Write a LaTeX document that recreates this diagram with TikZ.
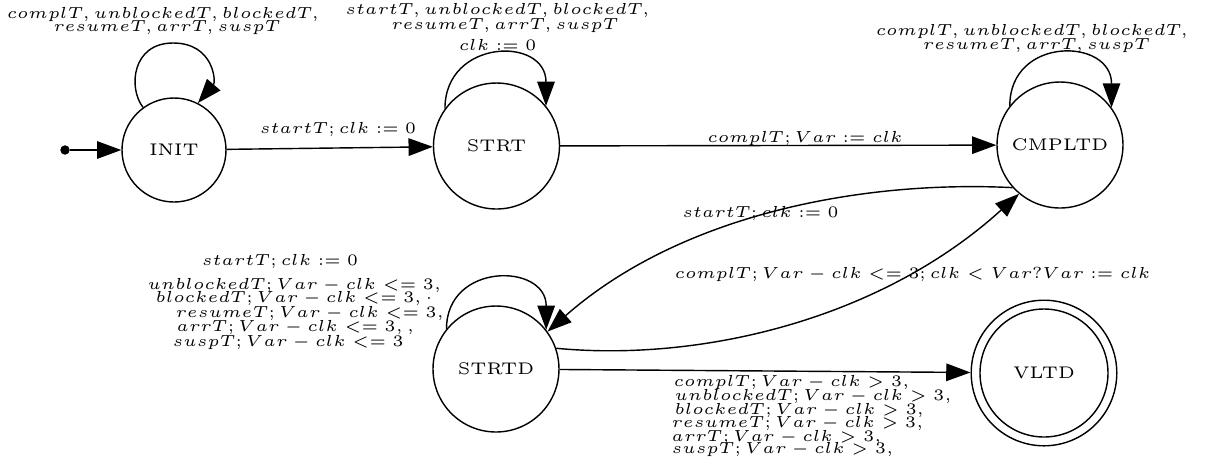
\documentclass[tikz,border=0pt]{standalone}
\usetikzlibrary{arrows.meta}
\newcommand{\labtxt}[1]{\scalebox{0.95}{$#1$}}
\begin{document}
\begin{tikzpicture}[x=0.2967pt, y=-0.2967pt,
  every node/.style={font=\tiny},
  state/.style={circle, draw, line width=0.42pt, inner sep=0pt, minimum size=37.38pt},
  edge/.style={line width=0.42pt, -{Triangle[length=7.2pt, width=5.2pt]}},
  lbl/.style={inner sep=0pt, anchor=base},
  lline/.style={inner sep=0pt, anchor=base west}]
\useasboundingbox (0,0) rectangle (1207,471);
% states
\node[state, minimum size=30.86pt] (INIT) at (174,150) {INIT};
\node[state] (STRT) at (496.5,146) {STRT};
\node[state] (CMPLTD) at (1060,145) {CMPLTD};
\node[state] (STRTD) at (496,369) {STRTD};
\node[state, minimum size=43.2pt] (VLTD) at (1044,373) {VLTD};
\draw[line width=0.42pt] (VLTD.center) circle[radius=64];
\node[circle, fill, inner sep=0pt, minimum size=2.8pt] (start) at (65,150) {};
% straight edges
\draw[edge] (start) -- (INIT);
\draw[edge] (INIT) -- (STRT);
\draw[edge] (STRT) -- (CMPLTD);
\draw[edge] (STRTD) -- (VLTD);
% curved edges
\draw[edge] (CMPLTD.222) .. controls (860,180) and (680,215) .. (STRTD.36);
\draw[edge] (STRTD.19) .. controls (700,362) and (880,320) .. (CMPLTD.230);
% loops
\draw[edge] (INIT.126) .. controls (128,88) and (132,43) .. (173,43)
  .. controls (214,43) and (216,82) .. (INIT.63);
\draw[edge] (STRT.144) .. controls +(0,-70) and +(0,-70) .. (STRT.39);
\draw[edge] (CMPLTD.142) .. controls +(0,-70) and +(0,-70) .. (CMPLTD.36);
\draw[edge] (STRTD.141) .. controls +(0,-67) and +(0,-67) .. (STRTD.38);
% edge labels
\node[lbl] (l1) at (338,133.3) {\labtxt{startT; clk := 0}};
\node[lbl] (l2) at (805,142.7) {\labtxt{complT; Var := clk}};
\node[lbl] (l3) at (760.5,217.7) {\labtxt{startT; clk := 0}};
\node[lbl] (l4) at (912.5,278) {\labtxt{complT; Var - clk <= 3; clk < Var?Var := clk}};
% INIT loop label
\node[lbl] (ia) at (163,18.3) {\labtxt{complT, unblockedT, blockedT,}};
\node[lbl] (ib) at (167,31.7) {\labtxt{resumeT, arrT, suspT}};
% STRT loop label
\node[lbl] (sa) at (497.5,14) {\labtxt{startT, unblockedT, blockedT,}};
\node[lbl] (sb) at (505,29.3) {\labtxt{resumeT, arrT, suspT}};
\node[lbl] (sc) at (497.5,50) {\labtxt{clk := 0}};
% CMPLTD loop label
\node[lbl] (ca) at (1032,35) {\labtxt{complT, unblockedT, blockedT,}};
\node[lbl] (cb) at (1036.5,49.3) {\labtxt{resumeT, arrT, suspT}};
% STRTD loop label
\node[lbl] (da) at (280,265.7) {\labtxt{startT; clk := 0}};
\node[lline] (db) at (147,289.3) {\labtxt{unblockedT; Var - clk <= 3,}};
\node[lline] (dc) at (155,302.7) {\labtxt{blockedT; Var - clk <= 3, \cdot}};
\node[lline] (dd) at (175,317.3) {\labtxt{resumeT; Var - clk <= 3,}};
\node[lline] (de) at (176,331.7) {\labtxt{arrT; Var - clk <= 3, ,}};
\node[lline] (df) at (172,346) {\labtxt{suspT; Var - clk <= 3}};
% STRTD -> VLTD label
\node[lline] (va) at (673,386.7) {\labtxt{complT; Var - clk > 3,}};
\node[lline] (vb) at (674,400.7) {\labtxt{unblockedT; Var - clk > 3,}};
\node[lline] (vc) at (674,414) {\labtxt{blockedT; Var - clk > 3,}};
\node[lline] (vd) at (671,427.3) {\labtxt{resumeT; Var - clk > 3,}};
\node[lline] (ve) at (671,441.7) {\labtxt{arrT; Var - clk > 3,}};
\node[lline] (vf) at (671,453.3) {\labtxt{suspT; Var - clk > 3,}};
\end{tikzpicture}
\end{document}
